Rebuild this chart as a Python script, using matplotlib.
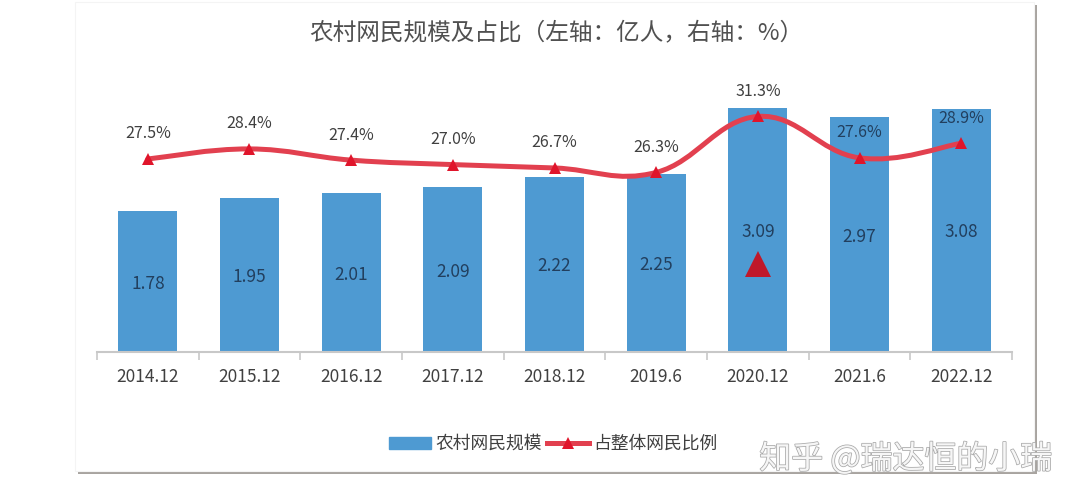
import matplotlib
matplotlib.use('Agg')
import matplotlib.pyplot as plt
import matplotlib.patheffects as pe
from matplotlib import lines, patches
from matplotlib.path import Path

plt.rcParams['font.family'] = ['Noto Sans CJK SC', 'DejaVu Sans']

categories = ['2014.12', '2015.12', '2016.12', '2017.12', '2018.12', '2019.6', '2020.12', '2021.6', '2022.12']
users = [1.78, 1.95, 2.01, 2.09, 2.22, 2.25, 3.09, 2.97, 3.08]
share = [27.5, 28.4, 27.4, 27.0, 26.7, 26.3, 31.3, 27.6, 28.9]
# stray legend triangle left on the 2020.12 bar in the original image
stray_x = 6
stray_y = 1.11

W, H = 1080, 500
BAR = '#4E9AD2'
RED = '#E2404F'
MARK = '#E0152B'
TEXT = '#404040'
TEXT_ON_BAR = '#223F5E'


def fx(px):
    return px / W


def fy(px):
    return 1 - px / H


def smooth_path(xs, ys, k=0.2):
    # bezier through the points, the way a spreadsheet smooths a line
    verts = [(xs[0], ys[0])]
    codes = [Path.MOVETO]
    n = len(xs)
    for i in range(n - 1):
        p0 = max(i - 1, 0)
        p3 = min(i + 2, n - 1)
        verts.append((xs[i] + (xs[i + 1] - xs[p0]) * k, ys[i] + (ys[i + 1] - ys[p0]) * k))
        verts.append((xs[i + 1] - (xs[p3] - xs[i]) * k, ys[i + 1] - (ys[p3] - ys[i]) * k))
        verts.append((xs[i + 1], ys[i + 1]))
        codes += [Path.CURVE4, Path.CURVE4, Path.CURVE4]
    return Path(verts, codes)


fig = plt.figure(figsize=(W / 100, H / 100), dpi=100, facecolor='white')

# card with a shadow behind the chart
fig.add_artist(patches.Rectangle((fx(78), fy(474)), fx(959), fy(5) - fy(474),
                                 transform=fig.transFigure, facecolor='#A8A4A0', edgecolor='none', zorder=-3))
fig.add_artist(patches.Rectangle((fx(75), fy(471)), fx(959), fy(2) - fy(471),
                                 transform=fig.transFigure, facecolor='white', edgecolor='#F4F4F4',
                                 linewidth=0.8, zorder=-2))

ax = fig.add_axes([fx(97), fy(352), fx(1012 - 97), fy(60) - fy(352)])
ax.patch.set_visible(False)
xs = list(range(len(categories)))
ax.bar(xs, users, width=0.58, color=BAR, zorder=2)
ax.set_xlim(-0.5, 8.5)
ax.set_ylim(0, 292 / 79)
ax.set_xticks([x - 0.5 for x in xs] + [8.5])
ax.set_xticklabels([])
ax.set_xticks(xs, categories, minor=True)
ax.tick_params(axis='x', which='major', length=6, width=1.2, color='#C8C8C8', direction='out')
ax.tick_params(axis='x', which='minor', length=0, pad=11.5, labelsize=12.5, labelcolor=TEXT)
ax.set_yticks([])
for side in ['top', 'left', 'right']:
    ax.spines[side].set_visible(False)
ax.spines['bottom'].set_color('#C8C8C8')
ax.spines['bottom'].set_linewidth(1.5)

for x, v in zip(xs, users):
    ax.annotate('{:.2f}'.format(v), (x, v / 2), xytext=(0, -1.5), textcoords='offset points',
                ha='center', va='center', fontsize=12.5, color=TEXT_ON_BAR, zorder=3)

ax2 = ax.twinx()
ax2.set_ylim(27.5 - 193 / 11.2, 27.5 - 193 / 11.2 + 292 / 11.2)
ax2.set_yticks([])
for side in ax2.spines:
    ax2.spines[side].set_visible(False)

ax2.add_patch(patches.PathPatch(smooth_path(xs, share), facecolor='none', edgecolor=RED,
                                linewidth=3.6, capstyle='round'))
ax2.plot(xs, share, linestyle='none', marker='^', markersize=8.5, color=MARK, markeredgewidth=0)
ax.plot([stray_x], [stray_y], linestyle='none', marker='^', markersize=19, color='#C0182A',
        markeredgewidth=0, zorder=3)

for i, (x, v) in enumerate(zip(xs, share)):
    ax2.annotate('{:.1f}%'.format(v), (x, v), xytext=(0, 18), textcoords='offset points',
                 ha='center', va='center', fontsize=11.5,
                 color=TEXT_ON_BAR if i >= 7 else TEXT)

fig.text(fx(556), fy(33), '农村网民规模及占比（左轴：亿人，右轴：%）', ha='center', va='center',
         fontsize=17, color='#505050')

handles = [patches.Patch(color=BAR, label='农村网民规模'),
           lines.Line2D([], [], color=RED, linewidth=3.6, marker='^', markersize=8.5,
                        markerfacecolor=MARK, markeredgewidth=0, label='占整体网民比例')]
fig.legend(handles=handles, loc='center', bbox_to_anchor=(fx(553), fy(444)), ncol=2, frameon=False,
           fontsize=12.8, labelcolor=TEXT, handlelength=2.35, handletextpad=0.25, columnspacing=0.3,
           handleheight=0.7, borderpad=0)

fig.text(fx(906), fy(459), '知乎 @瑞达恒的小瑞', ha='center', va='center', fontsize=23,
         color='#F6F6F6', zorder=5,
         path_effects=[pe.withStroke(linewidth=1.1, foreground='#A8A8A8')])

fig.savefig('out.png', dpi=100)
